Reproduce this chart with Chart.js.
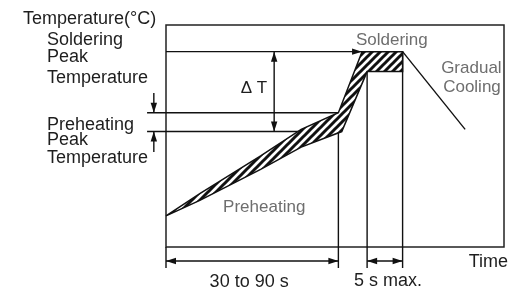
<!DOCTYPE html>
<html>
<head>
<meta charset="utf-8">
<script src="https://cdn.jsdelivr.net/npm/chart.js@4.4.1/dist/chart.umd.min.js"></script>
<style>
  html, body { margin: 0; padding: 0; background: #fff; }
  #wrap { width: 522px; height: 291px; }
</style>
</head>
<body>
<div id="wrap"><canvas id="profile"></canvas></div>
<script>
// sketch units: time 0..100 across the frame, temperature 0..100 up the frame

// hatched temperature band (upper edge out, lower edge back)
var bandTime = [0, 10, 28, 40, 51, 58, 70, 70, 59.5, 52, 40, 28, 10, 0];
var bandTemp = [14, 24, 41, 53, 60.5, 88, 88, 79, 79, 52, 45, 35, 21, 14];

// gradual cooling slope
var coolTime = [70, 88.5];
var coolTemp = [88, 53];

// levels and times
var solderPeak = 88;
var preheatHigh = 60.5;
var preheatLow = 52;
var preheatEnd = 51;
var solderStart = 59.5;
var solderEnd = 70;
var peakHit = 58;
var solderFloor = 79;

// guide / dimension line places
var guideLeft = -5.6;
var sideArrowX = -3.6;
var sideArrowTop = 69.4;
var sideArrowBottom = 42.8;
var deltaX = 32;
var dimY = -6.3;
var extBottom = -9.5;

var dark = '#1e1e1e';
var grey = '#6e6e6e';

function pts(xs, ys) {
    return xs.map(function (x, i) { return { x: x, y: ys[i] }; });
}

function seg(xs, ys, arrows) {
    return {
        data: pts(xs, ys),
        showLine: true,
        borderColor: '#111',
        borderWidth: 1.4,
        pointRadius: 0,
        fill: false,
        clip: false,
        arrows: arrows
    };
}

// diagonal hatch for the band
function hatch() {
    var c = document.createElement('canvas');
    c.width = 8; c.height = 8;
    var g = c.getContext('2d');
    g.fillStyle = '#fff';
    g.fillRect(0, 0, 8, 8);
    g.strokeStyle = '#111';
    g.lineWidth = 3;
    g.beginPath();
    g.moveTo(-2, 10); g.lineTo(10, -2);
    g.moveTo(-2, 2); g.lineTo(2, -2);
    g.moveTo(6, 10); g.lineTo(10, 6);
    g.stroke();
    return g.createPattern(c, 'repeat');
}

var notes = [
    { t: 'Temperature(°C)', x: -42.3, y: 100.5, c: dark, s: 18 },
    { t: 'Soldering', x: -35.2, y: 91, c: dark, s: 18 },
    { t: 'Peak', x: -35.2, y: 83.3, c: dark, s: 18 },
    { t: 'Temperature', x: -35.2, y: 73.9, c: dark, s: 18 },
    { t: 'Preheating', x: -35.2, y: 52.7, c: dark, s: 18 },
    { t: 'Peak', x: -35.2, y: 45.9, c: dark, s: 18 },
    { t: 'Temperature', x: -35.2, y: 37.8, c: dark, s: 18 },
    { t: 'Soldering', x: 56.2, y: 91, c: grey, s: 17 },
    { t: 'Gradual', x: 81.4, y: 78.2, c: grey, s: 17 },
    { t: 'Cooling', x: 82, y: 69.8, c: grey, s: 17 },
    { t: 'Preheating', x: 16.9, y: 15.8, c: grey, s: 17 },
    { t: 'Δ T', x: 26, y: 69.4, c: dark, s: 17, a: 'center' },
    { t: '30 to 90 s', x: 24.6, y: -18, c: dark, s: 18, a: 'center' },
    { t: '5 s max.', x: 65.7, y: -17.6, c: dark, s: 18, a: 'center' },
    { t: 'Time', x: 101.2, y: -9, c: dark, s: 18, a: 'right' }
];

var arrowPlugin = {
    id: 'arrows',
    afterDatasetsDraw: function (chart) {
        var ctx = chart.ctx;
        chart.data.datasets.forEach(function (ds, i) {
            if (!ds.arrows) return;
            var p = chart.getDatasetMeta(i).data;
            var ends = [];
            if (ds.arrows === 'end' || ds.arrows === 'both') ends.push([p[p.length - 2], p[p.length - 1]]);
            if (ds.arrows === 'start' || ds.arrows === 'both') ends.push([p[1], p[0]]);
            ends.forEach(function (e) {
                var ang = Math.atan2(e[1].y - e[0].y, e[1].x - e[0].x);
                ctx.save();
                ctx.translate(e[1].x, e[1].y);
                ctx.rotate(ang);
                ctx.beginPath();
                ctx.moveTo(0, 0);
                ctx.lineTo(-10, -3.2);
                ctx.lineTo(-10, 3.2);
                ctx.closePath();
                ctx.fillStyle = '#111';
                ctx.fill();
                ctx.restore();
            });
        });
    }
};

var sketchPlugin = {
    id: 'sketch',
    beforeDatasetsDraw: function (chart) {
        var a = chart.chartArea, ctx = chart.ctx;
        ctx.save();
        ctx.strokeStyle = '#222';
        ctx.lineWidth = 1.5;
        ctx.strokeRect(a.left, a.top, a.right - a.left, a.bottom - a.top);
        ctx.restore();
    },
    afterDraw: function (chart) {
        var ctx = chart.ctx, sx = chart.scales.x, sy = chart.scales.y;
        ctx.save();
        ctx.textBaseline = 'alphabetic';
        notes.forEach(function (n) {
            ctx.font = n.s + 'px "Liberation Sans", Arial, sans-serif';
            ctx.fillStyle = n.c;
            ctx.textAlign = n.a || 'left';
            ctx.fillText(n.t, sx.getPixelForValue(n.x), sy.getPixelForValue(n.y));
        });
        ctx.restore();
    }
};

var band = {
    data: pts(bandTime, bandTemp),
    showLine: true,
    fill: 'shape',
    backgroundColor: hatch(),
    borderColor: '#111',
    borderWidth: 1.5,
    pointRadius: 0,
    clip: false
};

var datasets = [
    band,
    seg(coolTime, coolTemp),
    seg([0, peakHit], [solderPeak, solderPeak], 'end'),
    seg([guideLeft, preheatEnd], [preheatHigh, preheatHigh]),
    seg([guideLeft, preheatEnd], [preheatLow, preheatLow]),
    seg([deltaX, deltaX], [solderPeak, preheatLow], 'both'),
    seg([sideArrowX, sideArrowX], [sideArrowTop, preheatHigh], 'end'),
    seg([sideArrowX, sideArrowX], [sideArrowBottom, preheatLow], 'end'),
    seg([0, 0], [0, extBottom]),
    seg([preheatEnd, preheatEnd], [preheatLow, extBottom]),
    seg([solderStart, solderStart], [solderFloor, extBottom]),
    seg([solderEnd, solderEnd], [solderPeak, extBottom]),
    seg([0, preheatEnd], [dimY, dimY], 'both'),
    seg([solderStart, solderEnd], [dimY, dimY], 'both')
];

var chart = new Chart(document.getElementById('profile'), {
    type: 'scatter',
    data: { datasets: datasets },
    options: {
        responsive: true,
        maintainAspectRatio: false,
        animation: false,
        layout: { padding: { left: 166, right: 18, top: 25, bottom: 44 } },
        plugins: {
            legend: { display: false },
            tooltip: { enabled: false }
        },
        elements: { line: { tension: 0 } },
        scales: {
            x: { type: 'linear', min: 0, max: 100, display: false },
            y: { type: 'linear', min: 0, max: 100, display: false }
        }
    },
    plugins: [sketchPlugin, arrowPlugin]
});
</script>
</body>
</html>
